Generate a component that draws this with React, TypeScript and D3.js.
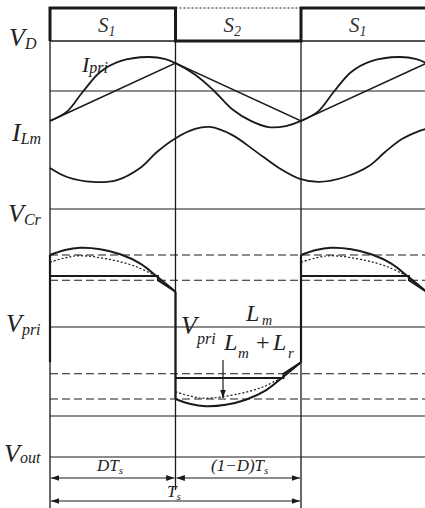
import React from "react";
import * as d3 from "d3";

const W = 425;
const H = 508;

// time axis in units of Ts (D = 0.5)
const switchTimes = [0, 0.5, 1, 1.5];
const stateNames = ["S", "S", "S"];
const stateSubs = ["1", "2", "1"];
const vdLevels = [1, 0, 1];

// triangular current (one full period + half)
const triT = [0, 0.5, 1, 1.5];
const triV = [-0.88, 0.82, -0.88, 0.82];

// primary current over one period
const iPriT = [0, 0.07, 0.13, 0.2, 0.28, 0.39, 0.46, 0.5, 0.58, 0.65, 0.73, 0.8, 0.87, 0.94, 1.0];
const iPriV = [-0.88, -0.59, -0.03, 0.56, 0.88, 1.0, 0.94, 0.82, 0.47, 0.03, -0.56, -0.88, -1.06, -1.03, -0.88];

// magnetizing-like sinusoid
const iLmT = [0, 0.068, 0.171, 0.267, 0.359, 0.426, 0.502, 0.578, 0.637, 0.725, 0.817, 0.912, 0.996, 1.072, 1.175, 1.271, 1.335, 1.402, 1.47, 1.5];
const iLmV = [-0.47, -0.8, -0.98, -0.91, -0.47, 0.11, 0.62, 0.95, 1.02, 0.73, 0.15, -0.47, -0.87, -0.98, -0.8, -0.4, 0.11, 0.58, 0.87, 0.95];

// Vpri half-period shapes (positive half)
const arcT = [0, 0.06, 0.12, 0.2, 0.28, 0.36, 0.43, 0.5];
const arcV = [1.0, 1.07, 1.1, 1.08, 1.01, 0.88, 0.69, 0.49];
const dotT = [0, 0.06, 0.12, 0.25, 0.35, 0.43];
const dotV = [0.9, 0.96, 0.99, 0.93, 0.83, 0.69];
const stepT = [0, 0.43, 0.43, 0.5];
const stepV = [0.71, 0.71, 0.65, 0.49];
const dashLevels = [1, 0.65, -0.65, -1];

const x = d3.scaleLinear().domain([0, 1]).range([50, 301]);
const yD = d3.scaleLinear().domain([0, 1]).range([41, 8]);
const yI = d3.scaleLinear().domain([-1, 1]).range([125, 57]);
const yL = d3.scaleLinear().domain([-1, 1]).range([182.5, 127.5]);
const yV = d3.scaleLinear().domain([-1, 1]).range([399, 255]);

const axisLines = [91, 209, 327, 416, 457];
const XR = W;
const ink = "#1a1a1a";
const serif = "'Liberation Serif', 'DejaVu Serif', serif";

function pts(ts: number[], vs: number[], dt = 0, sign = 1): [number, number][] {
  return ts.map((t, i) => [t + dt, vs[i] * sign]);
}

export default function App() {
  const smooth = (ys: d3.ScaleLinear<number, number>) =>
    d3.line<[number, number]>().x((d) => x(d[0])).y((d) => ys(d[1])).curve(d3.curveCatmullRom.alpha(0.5));
  const straight = (ys: d3.ScaleLinear<number, number>) =>
    d3.line<[number, number]>().x((d) => x(d[0])).y((d) => ys(d[1]));

  const iPri = pts(iPriT, iPriV).concat(
    pts(iPriT.filter((t) => t > 0 && t <= 0.5), iPriV.filter((_, i) => iPriT[i] > 0 && iPriT[i] <= 0.5), 1)
  );
  const tri = pts(triT, triV);
  const iLm = pts(iLmT, iLmV);

  const halves = [
    { dt: 0, s: 1 },
    { dt: 0.5, s: -1 },
    { dt: 1, s: 1 },
  ];

  let vd = `M${x(0)},${yD(0)}`;
  vdLevels.forEach((lv, i) => {
    vd += `V${yD(lv)}H${x(switchTimes[i + 1])}`;
  });

  return (
    <svg width={W} height={H} style={{ position: "absolute", left: 0, top: 0, background: "#fff" }}>
      <defs>
        <marker id="ah" viewBox="0 0 10 10" refX="10" refY="5" markerWidth="7" markerHeight="7" orient="auto-start-reverse">
          <path d="M0,1.5 L10,5 L0,8.5 Z" fill={ink} />
        </marker>
      </defs>
      <rect width={W} height={H} fill="#fff" />
      {vdLevels.map((lv, i) => (
        <line key={"vo" + i} x1={x(switchTimes[i])} x2={Math.min(x(switchTimes[i + 1]), XR)}
          y1={yD(1 - lv)} y2={yD(1 - lv)} stroke={ink} strokeWidth={lv ? 1.5 : 1}
          strokeDasharray={lv ? undefined : "2,2"} />
      ))}
      <path d={vd} fill="none" stroke={ink} strokeWidth={3} />

      <line x1={x(0)} x2={x(0)} y1={yD(1)} y2={H} stroke={ink} strokeWidth={1.3} />
      <line x1={x(0.5)} x2={x(0.5)} y1={yD(1)} y2={490} stroke={ink} strokeWidth={1.3} />
      <line x1={x(1)} x2={x(1)} y1={yD(1)} y2={H} stroke={ink} strokeWidth={1.3} />

      {axisLines.map((yy) => (
        <line key={"ax" + yy} x1={x(0)} x2={XR} y1={yy} y2={yy} stroke={ink} strokeWidth={1.2} />
      ))}
      {dashLevels.map((lv) => (
        <line key={"dl" + lv} x1={x(0)} x2={XR} y1={yV(lv)} y2={yV(lv)} stroke={ink} strokeWidth={1.1} strokeDasharray="8,4" />
      ))}

      <path d={straight(yI)(tri) || ""} fill="none" stroke={ink} strokeWidth={1.6} />
      <path d={smooth(yI)(iPri) || ""} fill="none" stroke={ink} strokeWidth={1.8} />
      <path d={smooth(yL)(iLm) || ""} fill="none" stroke={ink} strokeWidth={1.8} />

      {halves.map((h, i) => (
        <g key={"h" + i}>
          <path d={smooth(yV)(pts(arcT, arcV, h.dt, h.s)) || ""} fill="none" stroke={ink} strokeWidth={2} />
          <path d={smooth(yV)(pts(dotT, dotV, h.dt, h.s)) || ""} fill="none" stroke={ink} strokeWidth={1.2} strokeDasharray="2,2" />
          <path d={straight(yV)(pts(stepT, stepV, h.dt, h.s)) || ""} fill="none" stroke={ink} strokeWidth={2} />
        </g>
      ))}
      {switchTimes.slice(0, 3).map((t, i) => {
        const s = i % 2 === 0 ? 1 : -1;
        return (
          <line key={"vv" + i} x1={x(t)} x2={x(t)} y1={yV(-s * arcV[arcV.length - 1])} y2={yV(s * arcV[0])} stroke={ink} strokeWidth={2.2} />
        );
      })}

      {stateNames.map((s, i) => (
        <text key={"st" + i} x={(x(switchTimes[i]) + x(switchTimes[i + 1])) / 2 - 6} y={32}
          fontFamily={serif} fontStyle="italic" fontSize={21} fill="#333" textAnchor="middle">
          {s}
          <tspan fontSize={14} dy={4}>{stateSubs[i]}</tspan>
        </text>
      ))}

      <g fontFamily={serif} fontStyle="italic" fill="#222">
        <text x={9} y={46} fontSize={26}>V<tspan fontSize={16} dy={3}>D</tspan></text>
        <text x={82} y={72} fontSize={22}>I<tspan fontSize={16} dy={1}>pri</tspan></text>
        <text x={12} y={141} fontSize={26}>I<tspan fontSize={16} dy={3}>Lm</tspan></text>
        <text x={8} y={222} fontSize={26}>V<tspan fontSize={16} dy={3}>Cr</tspan></text>
        <text x={6} y={332} fontSize={26}>V<tspan fontSize={16} dy={3}>pri</tspan></text>
        <text x={4} y={462} fontSize={26}>V<tspan fontSize={16} dy={1}>out</tspan></text>

        <text x={181} y={334} fontSize={26}>V</text>
        <text x={197} y={344} fontSize={16}>pri</text>
        <text x={246} y={321} fontSize={24}>L</text>
        <text x={262} y={325} fontSize={14}>m</text>
        <text x={224} y={350} fontSize={24}>L</text>
        <text x={238} y={358} fontSize={15}>m</text>
        <text x={256} y={350} fontSize={24} fontStyle="normal">+</text>
        <text x={273} y={350} fontSize={24}>L</text>
        <text x={288} y={358} fontSize={15}>r</text>

        <text x={97} y={471} fontSize={17}>DT<tspan fontSize={11} dy={3}>s</tspan></text>
        <text x={211} y={471} fontSize={17}>(1−D)T<tspan fontSize={11} dy={3}>s</tspan></text>
        <text x={167} y={497} fontSize={17}>T<tspan fontSize={11} dy={3}>s</tspan></text>
      </g>
      <line x1={223} x2={223} y1={360} y2={398} stroke={ink} strokeWidth={1.2} markerEnd="url(#ah)" />

      <line x1={x(0) + 1} x2={x(0.5) - 1} y1={478} y2={478} stroke={ink} strokeWidth={1.2} markerStart="url(#ah)" markerEnd="url(#ah)" />
      <line x1={x(0.5) + 1} x2={x(1) - 1} y1={478} y2={478} stroke={ink} strokeWidth={1.2} markerStart="url(#ah)" markerEnd="url(#ah)" />
      <line x1={x(0) + 1} x2={x(1) - 1} y1={501} y2={501} stroke={ink} strokeWidth={1.2} markerStart="url(#ah)" markerEnd="url(#ah)" />
    </svg>
  );
}
